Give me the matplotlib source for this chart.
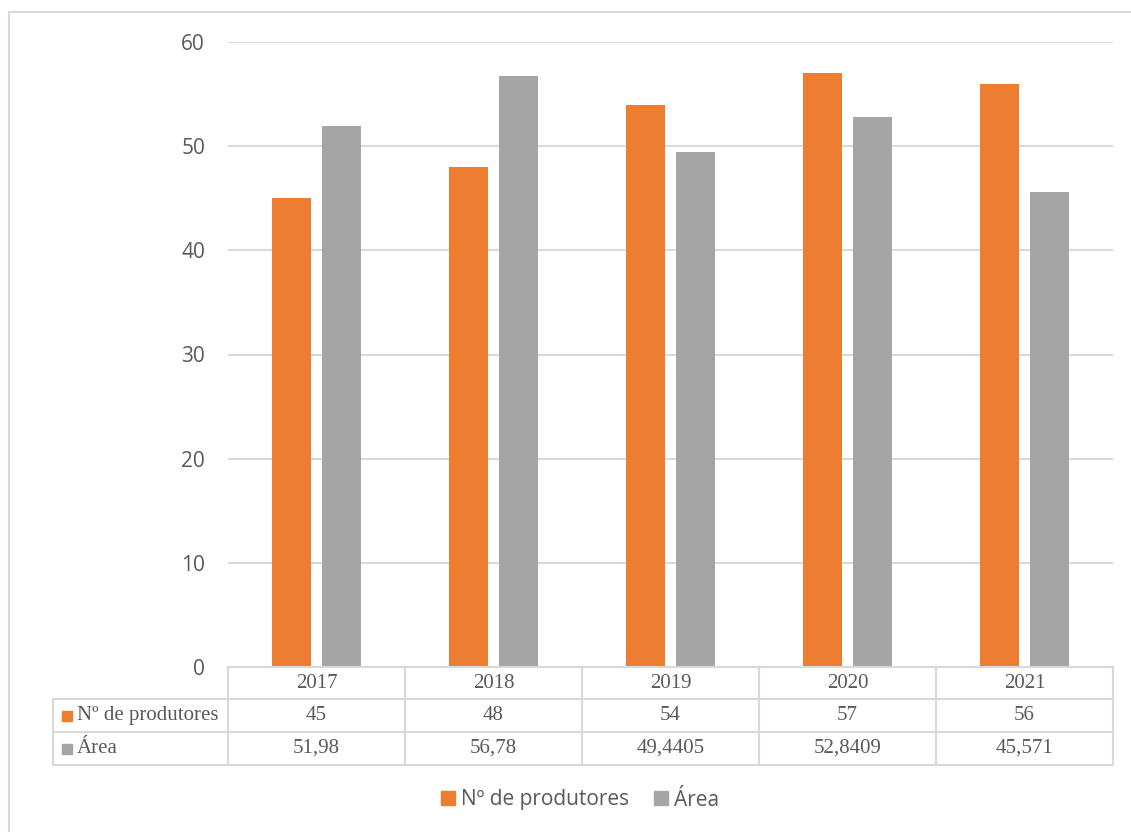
import matplotlib
matplotlib.use("Agg")
import matplotlib.pyplot as plt
import matplotlib.transforms as mtransforms
from matplotlib.patches import Patch, Rectangle
from matplotlib.lines import Line2D
import numpy as np

# Data
anos = ["2017", "2018", "2019", "2020", "2021"]
produtores = [45, 48, 54, 57, 56]
area = [51.98, 56.78, 49.4405, 52.8409, 45.571]
area_txt = ["51,98", "56,78", "49,4405", "52,8409", "45,571"]
series = ["Nº de produtores", "Área"]

orange = "#ED7D31"
gray = "#A5A5A5"
grid = "#D9D9D9"
txt = "#595959"

W, H = 1131, 832
fig = plt.figure(figsize=(W / 100, H / 100), dpi=100)


def fx(px):
    return px / W


def fy(py):
    return 1 - py / H


# plot area in pixels
L, R, T, B = 228, 1113, 42, 667
ax = fig.add_axes([fx(L), fy(B), fx(R) - fx(L), fy(T) - fy(B)])

x = np.arange(len(anos))
w = 0.22
off = 0.141
ax.bar(x - off, produtores, width=w, color=orange, zorder=3)
ax.bar(x + off, area, width=w, color=gray, zorder=3)

ax.set_xlim(-0.5, len(anos) - 0.5)
ax.set_ylim(0, 60)
ax.set_yticks(range(0, 61, 10))
ax.set_xticks([])
ax.yaxis.grid(True, color=grid, linewidth=1.5, zorder=0)
for s in ["top", "right", "left"]:
    ax.spines[s].set_visible(False)
ax.spines["bottom"].set_color(grid)
ax.spines["bottom"].set_linewidth(1.5)
ax.tick_params(axis="y", length=0, pad=16.5, labelsize=15, labelcolor=txt)
for lab in ax.get_yticklabels():
    lab.set_fontfamily("Open Sans")

# data table under the plot
tr = mtransforms.blended_transform_factory(ax.transData, fig.transFigure)
rows_px = [667, 699, 732, 765]
lc = dict(color=grid, linewidth=1.5, transform=fig.transFigure)

# horizontal lines
fig.add_artist(Line2D([fx(L), fx(R)], [fy(rows_px[0])] * 2, **lc))
for r in rows_px[1:]:
    fig.add_artist(Line2D([fx(53), fx(R)], [fy(r)] * 2, **lc))
# vertical lines
fig.add_artist(Line2D([fx(53), fx(53)], [fy(rows_px[1]), fy(rows_px[3])], **lc))
for i in range(len(anos) + 1):
    fig.add_artist(Line2D([i - 0.5, i - 0.5], [fy(rows_px[0]), fy(rows_px[3])],
                          color=grid, linewidth=1.5, transform=tr))

tkw = dict(ha="center", va="center", fontsize=15, color=txt,
           family="Liberation Serif", transform=tr)
centers = [(rows_px[k] + rows_px[k + 1]) / 2 for k in range(3)]
for i in range(len(anos)):
    fig.text(i, fy(centers[0]), anos[i], **tkw)
    fig.text(i, fy(centers[1]), str(produtores[i]), **tkw)
    fig.text(i, fy(centers[2]), area_txt[i], **tkw)

# row headers with colour keys
for k, (name, col) in enumerate(zip(series, [orange, gray])):
    cy = centers[k + 1]
    fig.add_artist(Rectangle((fx(62), fy(cy + 5)), fx(10), fy(cy - 5) - fy(cy + 5),
                             color=col, transform=fig.transFigure))
    fig.text(fx(77), fy(cy), name, ha="left", va="center", fontsize=15,
             color=txt, family="Liberation Serif")

# legend
handles = [Patch(color=orange), Patch(color=gray)]
fig.legend(handles, series, loc="center", bbox_to_anchor=(fx(580), fy(800)),
           ncol=2, frameon=False, prop={"family": "Open Sans", "size": 15},
           labelcolor=txt, handlelength=0.65, handleheight=0.65,
           handletextpad=0.3, columnspacing=1.2)

# outer chart border
fig.add_artist(Rectangle((fx(9), fy(H + 10)), fx(W + 10) - fx(9), fy(12) - fy(H + 10),
                         fill=False, edgecolor=grid, linewidth=1.5,
                         transform=fig.transFigure))

fig.savefig("out.png", dpi=100)
